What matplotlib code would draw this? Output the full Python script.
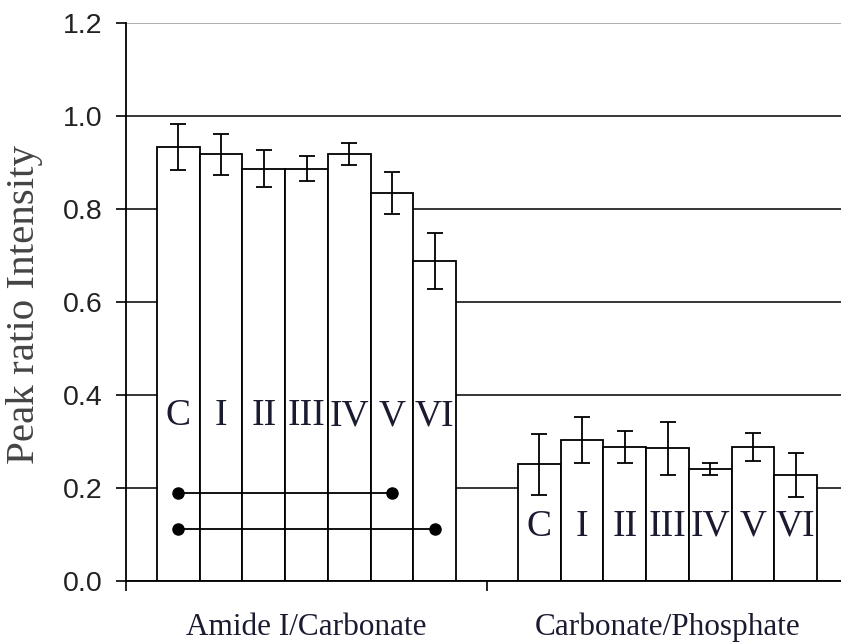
import numpy as np
import matplotlib
matplotlib.use("Agg")
import matplotlib.pyplot as plt

GROUPS = ["Amide I/Carbonate", "Carbonate/Phosphate"]
SAMPLES = ["C", "I", "II", "III", "IV", "V", "VI"]

AMIDE_CARB = [0.933, 0.918, 0.887, 0.887, 0.918, 0.835, 0.689]
AMIDE_CARB_ERR = [0.050, 0.044, 0.040, 0.027, 0.024, 0.045, 0.060]
CARB_PHOS = [0.251, 0.303, 0.288, 0.285, 0.240, 0.288, 0.228]
CARB_PHOS_ERR = [0.066, 0.050, 0.035, 0.058, 0.013, 0.030, 0.047]

# significance brackets drawn under the first group
SIG_PAIRS = [("C", "V"), ("C", "VI")]
SIG_LEVELS = [0.19, 0.111]

LABEL_Y = [0.355, 0.117]   # where the sample names sit inside each group
YTICKS = [0.0, 0.2, 0.4, 0.6, 0.8, 1.0, 1.2]

TEXT_C = "#1a1a30"
SERIF = ["Liberation Serif", "DejaVu Serif"]
SANS = ["Liberation Sans", "DejaVu Sans"]

fig = plt.figure(figsize=(8.41, 6.43), dpi=100, facecolor="white")
ax = fig.add_axes([126 / 841, 62 / 643, 715 / 841, 558 / 643])

n = len(SAMPLES)
bar_w = 0.828 / n
offsets = (np.arange(n) - (n - 1) / 2) * bar_w

for gi, (vals, errs) in enumerate([(AMIDE_CARB, AMIDE_CARB_ERR),
                                   (CARB_PHOS, CARB_PHOS_ERR)]):
    xs = gi + 0.5 + offsets
    ax.bar(xs, vals, width=bar_w, color="white", edgecolor="black",
           linewidth=1.3, zorder=2)
    ax.errorbar(xs, vals, yerr=errs, fmt="none", ecolor="black",
                elinewidth=1.3, capsize=5.5, capthick=1.3, zorder=3)
    for x, s in zip(xs, SAMPLES):
        ax.text(x, LABEL_Y[gi], s, ha="center", va="center", fontsize=27,
                family=SERIF, color=TEXT_C, zorder=4)

# lines with dots under the first group
xs0 = 0.5 + offsets
for (a, b), lvl in zip(SIG_PAIRS, SIG_LEVELS):
    xa = xs0[SAMPLES.index(a)]
    xb = xs0[SAMPLES.index(b)]
    ax.plot([xa, xb], [lvl, lvl], color="black", linewidth=1.3,
            marker="o", markersize=8, zorder=5)

ax.set_xlim(0, 715 / 361)
ax.set_ylim(0, 1.2)
ax.set_yticks(YTICKS)
ax.set_yticklabels([f"{v:.1f}" for v in YTICKS], family=SANS, fontsize=20.5,
                   color="#222222")
ax.tick_params(axis="y", direction="out", length=7, width=1.2, pad=10)

# category boundaries only; the right edge is cut off in the original
ax.set_xticks([0, 1])
ax.set_xticklabels([])
ax.tick_params(axis="x", direction="out", length=7, width=1.2)

for gi, g in enumerate(GROUPS):
    ax.text(gi + 0.5, -0.099, g, ha="center", va="center", fontsize=22.5,
            family=SERIF, color=TEXT_C, clip_on=False)

ax.set_axisbelow(True)
ax.grid(axis="y", color="black", linewidth=1.1)
ax.grid(axis="x", visible=False)
ax.yaxis.get_gridlines()[-1].set_color("#9a9a9a")

for side in ["top", "right"]:
    ax.spines[side].set_visible(False)
ax.spines["left"].set_linewidth(1.3)
ax.spines["bottom"].set_linewidth(1.3)

fig.text(25 / 841, 1 - 305 / 643, "Peak ratio Intensity", rotation=90,
         ha="center", va="center", fontsize=29.5, family=SERIF,
         color="#444444")

fig.savefig("out.png", dpi=100, facecolor="white")
